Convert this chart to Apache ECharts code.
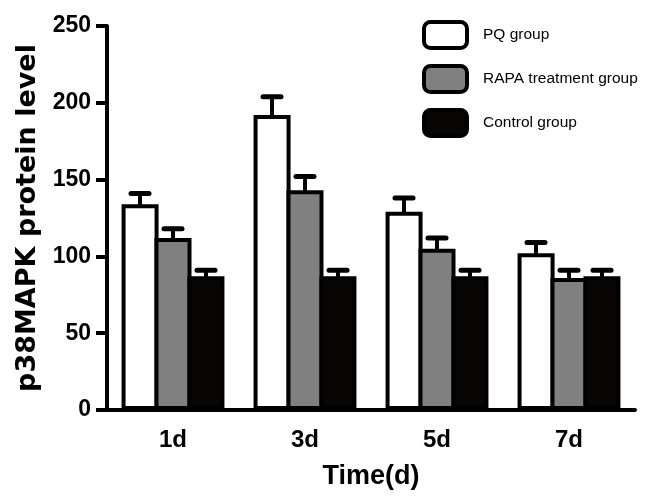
<!DOCTYPE html>
<html>
<head>
<meta charset="utf-8">
<script src="https://cdn.jsdelivr.net/npm/echarts@6/dist/echarts.min.js"></script>
<style>
  html, body { margin: 0; padding: 0; background: #fff; }
  #chart { width: 650px; height: 498px; }
</style>
</head>
<body>
<div id="chart"></div>
<script>
// time points
var days = ['1d', '3d', '5d', '7d'];

// means
var pqValues = [134, 192, 129, 102];
var rapaValues = [112, 143, 105, 86];
var controlValues = [87, 87, 87, 87];

// SD (upper whisker only)
var pqErr = [7, 12, 9, 7];
var rapaErr = [6, 9, 7, 5];
var controlErr = [4, 4, 4, 4];

var yTicks = [0, 50, 100, 150, 200, 250];

var FONT = 'Arial, "Liberation Sans", sans-serif';
var BAR_W = 37;
var STEP = 33; // distance between neighbouring bar centres (borders shared)

function errSeries(values, errs, offset) {
  return {
    type: 'custom',
    z: 5,
    silent: true,
    data: values.map(function (v, i) { return [i, v, v + errs[i]]; }),
    renderItem: function (params, api) {
      var base = api.coord([api.value(0), api.value(1)]);
      var top = api.coord([api.value(0), api.value(2)]);
      var x = base[0] + offset;
      var style = { stroke: '#000', lineWidth: 4, lineCap: 'round' };
      return {
        type: 'group',
        children: [
          { type: 'line', shape: { x1: x, y1: base[1], x2: x, y2: top[1] }, style: style },
          { type: 'line', shape: { x1: x - 9, y1: top[1], x2: x + 9, y2: top[1] }, style: { stroke: '#000', lineWidth: 5, lineCap: 'round' } }
        ]
      };
    }
  };
}

var chart = echarts.init(document.getElementById('chart'));
chart.setOption({
  animation: false,
  backgroundColor: '#fff',
  textStyle: { fontFamily: FONT },
  grid: { left: 107, right: 15, top: 26, bottom: 88 },
  legend: {
    orient: 'vertical',
    left: 422,
    top: 20,
    padding: 0,
    itemWidth: 43,
    itemHeight: 26,
    itemGap: 14,
    icon: 'roundRect',
    itemStyle: { borderColor: '#000', borderWidth: 4 },
    textStyle: { fontFamily: FONT, fontSize: 15.5, color: '#000', padding: [0, 0, 0, 11] },
    data: ['PQ group', 'RAPA treatment group', 'Control group']
  },
  xAxis: {
    type: 'category',
    data: days,
    name: 'Time(d)',
    nameLocation: 'middle',
    nameGap: 53,
    nameTextStyle: { fontFamily: FONT, fontSize: 27, fontWeight: 'bold', color: '#000' },
    axisLine: { lineStyle: { color: '#000', width: 4 } },
    axisTick: { show: false },
    axisLabel: { fontFamily: FONT, fontSize: 24, fontWeight: 'bold', color: '#000', margin: 18 }
  },
  yAxis: {
    type: 'value',
    min: yTicks[0],
    max: yTicks[yTicks.length - 1],
    interval: 50,
    name: 'p38MAPK protein level',
    nameLocation: 'middle',
    nameGap: 63,
    nameTextStyle: { fontFamily: '"DejaVu Sans", Arial, sans-serif', fontSize: 27, fontWeight: 'bold', color: '#000' },
    axisLine: { show: true, lineStyle: { color: '#000', width: 4 } },
    axisTick: { show: true, length: 11, lineStyle: { color: '#000', width: 4 } },
    axisLabel: { fontFamily: FONT, fontSize: 23, fontWeight: 'bold', color: '#000', margin: 16 },
    splitLine: { show: false }
  },
  series: [
    {
      name: 'PQ group', type: 'bar', data: pqValues, barWidth: BAR_W, barGap: '-11%',
      itemStyle: { color: '#fff', borderColor: '#000', borderWidth: 4 }
    },
    {
      name: 'RAPA treatment group', type: 'bar', data: rapaValues, barWidth: BAR_W, barGap: '-11%',
      itemStyle: { color: '#808080', borderColor: '#000', borderWidth: 4 }
    },
    {
      name: 'Control group', type: 'bar', data: controlValues, barWidth: BAR_W, barGap: '-11%',
      itemStyle: { color: '#080505', borderColor: '#000', borderWidth: 4 }
    },
    errSeries(pqValues, pqErr, -STEP),
    errSeries(rapaValues, rapaErr, 0),
    errSeries(controlValues, controlErr, STEP)
  ]
});
</script>
</body>
</html>
